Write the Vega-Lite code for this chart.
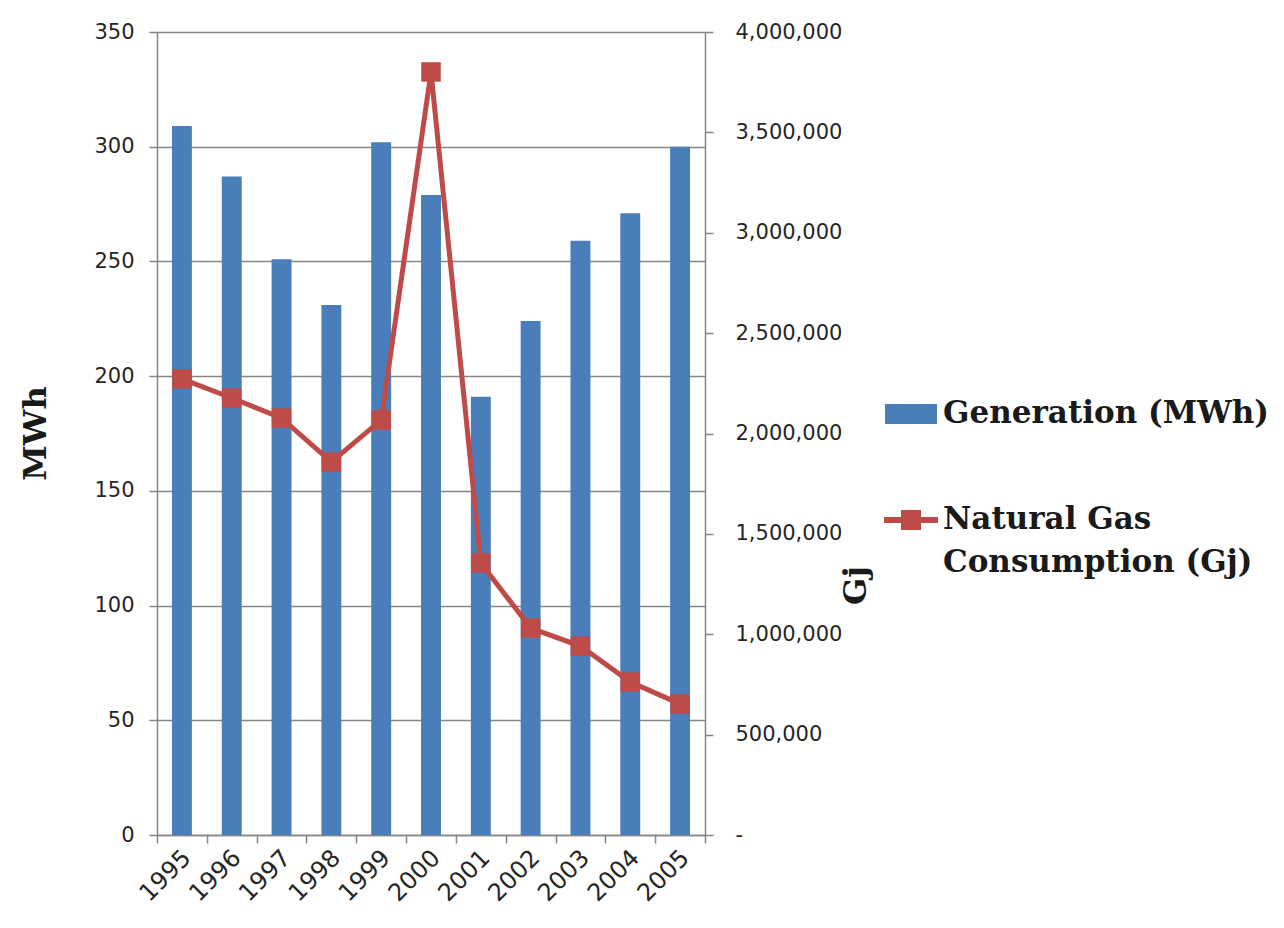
{
  "$schema": "https://vega.github.io/schema/vega-lite/v6.json",
  "width": 548,
  "height": 803,
  "autosize": {"type": "none"},
  "padding": {"left": 157, "top": 32, "right": 579, "bottom": 93},
  "background": "white",
  "config": {
    "view": {"stroke": null},
    "style": {"guide-label": {"lineHeight": 43}},
    "axis": {
      "domainColor": "#868686",
      "domainWidth": 1.5,
      "tickColor": "#868686",
      "tickWidth": 1.5,
      "tickSize": 8,
      "gridColor": "#868686",
      "gridWidth": 1.5,
      "gridOpacity": 1,
      "labelFont": "DejaVu Sans",
      "labelFontSize": 21,
      "labelColor": "#262626",
      "titleFont": "DejaVu Serif",
      "titleFontSize": 32,
      "titleFontWeight": "bold",
      "titleColor": "#1a1a1a"
    }
  },
  "data": {
    "values": [
      {"year": "1995", "generation": 309, "gas": 2272000},
      {"year": "1996", "generation": 287, "gas": 2177000},
      {"year": "1997", "generation": 251, "gas": 2077000},
      {"year": "1998", "generation": 231, "gas": 1858000},
      {"year": "1999", "generation": 302, "gas": 2067000},
      {"year": "2000", "generation": 279, "gas": 3801000},
      {"year": "2001", "generation": 191, "gas": 1355000},
      {"year": "2002", "generation": 224, "gas": 1031000},
      {"year": "2003", "generation": 259, "gas": 941000},
      {"year": "2004", "generation": 271, "gas": 762000},
      {"year": "2005", "generation": 300, "gas": 653000}
    ]
  },
  "encoding": {
    "x": {
      "field": "year",
      "type": "ordinal",
      "scale": {"paddingInner": 0, "paddingOuter": 0},
      "axis": {
        "title": null,
        "labelAngle": -45,
        "labelAlign": "right",
        "labelBaseline": "middle",
        "labelFontSize": 24,
        "labelPadding": 11,
        "labelOffset": 5,
        "tickBand": "extent",
        "grid": false
      }
    }
  },
  "layer": [
    {
      "mark": {"type": "bar", "width": {"band": 0.4}},
      "encoding": {
        "y": {
          "field": "generation",
          "type": "quantitative",
          "scale": {"domain": [0, 350], "nice": false},
          "axis": {
            "values": [0, 50, 100, 150, 200, 250, 300, 350],
            "grid": true,
            "labelPadding": 15,
            "title": "MWh",
            "titleAngle": -90,
            "titleAlign": "center",
            "titleBaseline": "middle",
            "titleX": -122,
            "titleY": 401
          }
        },
        "fill": {
          "datum": "Generation (MWh)",
          "scale": {"domain": ["Generation (MWh)"], "range": ["#4A7EBB"]},
          "legend": {
            "orient": "none",
            "legendX": 728,
            "legendY": 356,
            "title": null,
            "padding": 0,
            "symbolType": "M-1,-0.385H1V0.385H-1Z",
            "symbolSize": 2704,
            "symbolStrokeWidth": 0,
            "labelFont": "DejaVu Serif",
            "labelFontWeight": "bold",
            "labelFontSize": 31,
            "labelColor": "#1a1a1a",
            "labelOffset": 6,
            "labelLimit": 500
          }
        }
      }
    },
    {
      "encoding": {
        "y": {
          "field": "gas",
          "type": "quantitative",
          "scale": {"domain": [0, 4000000], "nice": false},
          "axis": {
            "orient": "right",
            "values": [0, 500000, 1000000, 1500000, 2000000, 2500000, 3000000, 3500000, 4000000],
            "grid": false,
            "labelPadding": 22,
            "labelExpr": "datum.value == 0 ? '-' : format(datum.value, ',')",
            "title": "Gj",
            "titleAngle": -90,
            "titleAlign": "center",
            "titleBaseline": "middle",
            "titleX": 150,
            "titleY": 553
          }
        }
      },
      "layer": [
        {
          "mark": {"type": "line", "color": "#BE4B48", "strokeWidth": 5}
        },
        {
          "mark": {"type": "point", "shape": "square", "filled": true, "size": 380, "opacity": 1},
          "encoding": {
            "fill": {
              "datum": "Natural Gas Consumption (Gj)",
              "scale": {"domain": ["Natural Gas Consumption (Gj)"], "range": ["#BE4B48"]},
              "legend": {
                "orient": "none",
                "legendX": 727,
                "legendY": 461,
                "title": null,
                "padding": 0,
                "symbolType": "M-1,-0.111H1V0.111H-1Z M-0.37,-0.37H0.37V0.37H-0.37Z",
                "symbolSize": 2916,
                "symbolStrokeWidth": 0,
                "labelFont": "DejaVu Serif",
                "labelFontWeight": "bold",
                "labelFontSize": 31,
                "labelColor": "#1a1a1a",
                "labelOffset": 5,
                "labelLimit": 500,
                "labelExpr": "['Natural Gas', 'Consumption (Gj)']"
              }
            }
          }
        }
      ]
    }
  ],
  "resolve": {
    "scale": {"y": "independent", "fill": "independent"},
    "legend": {"fill": "independent"}
  }
}
